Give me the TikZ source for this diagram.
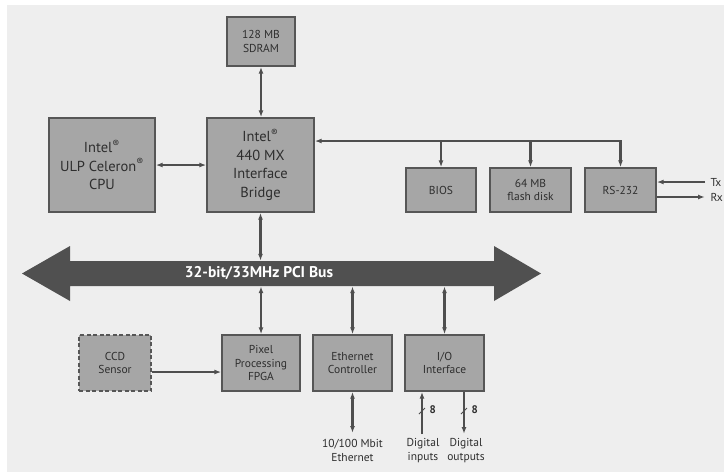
\documentclass[tikz,border=0pt]{standalone}
\usepackage{fontspec}
\setmainfont{PT Sans}
\usetikzlibrary{arrows.meta}
\definecolor{cBack}{HTML}{EEEEEE}
\definecolor{cBox}{HTML}{A6A6A6}
\definecolor{cEdge}{HTML}{565656}
\definecolor{cLine}{HTML}{4E4E4E}
\definecolor{cBus}{HTML}{505050}
\definecolor{cText}{HTML}{2E2E2E}

\begin{document}
\begin{tikzpicture}[x=1pt, y=-1pt,
    blk/.style={draw=cEdge, fill=cBox, line width=1.4pt, text=cText,
      align=center, inner sep=0pt, font=\fontsize{11.5}{13.5}\selectfont},
    bigblk/.style={blk, font=\fontsize{14.5}{18.5}\selectfont},
    ln/.style={draw=cLine, line width=2.3pt, arrows={-Latex[length=7pt,width=5pt]}},
    dbl/.style={ln, arrows={Latex[length=7pt,width=5pt]-Latex[length=7pt,width=5pt]}},
    lbl/.style={text=cText, align=center, font=\fontsize{11.5}{14}\selectfont}]
  \useasboundingbox (0,0) rectangle (724,472);
  \fill[white] (0,0) rectangle (724,472);
  \fill[cBack] (7,5) rectangle (724,472);

  \node[blk, minimum width=68, minimum height=49] (sdram) at (261,41.5) {128 MB\\SDRAM};
  \node[bigblk, minimum width=106, minimum height=94] (cpu) at (102,165)
    {Intel\textsuperscript{®}\\ULP Celeron\textsuperscript{®}\\CPU};
  \node[bigblk, minimum width=107, minimum height=94] (bridge) at (260.5,165)
    {Intel\textsuperscript{®}\\440 MX\\Interface\\Bridge};
  \node[blk, minimum width=70, minimum height=44] (bios) at (441,190) {BIOS};
  \node[blk, minimum width=81, minimum height=44] (flash) at (530.5,190) {64 MB\\flash disk};
  \node[blk, minimum width=71, minimum height=44] (rs) at (620.5,190) {RS-232};

  \fill[cBus] (22,273.5) -- (70,246) -- (70,261) -- (494,261) -- (494,246) -- (541,273.5)
    -- (494,301) -- (494,286) -- (70,286) -- (70,301) -- cycle;
  \node[minimum width=424, minimum height=25, inner sep=0pt] (bus) at (282,273.5) {};
  \node[text=white, font=\fontsize{15.5}{18}\bfseries] (buslbl) at (259,273.5) {32-bit/33MHz PCI Bus};

  \node[blk, dash pattern=on 4pt off 2.5pt, minimum width=72, minimum height=56] (ccd) at (115,363) {CCD\\Sensor};
  \node[blk, minimum width=78, minimum height=56] (fpga) at (261,363) {Pixel\\Processing\\FPGA};
  \node[blk, minimum width=79, minimum height=56] (eth) at (352.5,363) {Ethernet\\Controller};
  \node[blk, minimum width=79, minimum height=56] (io) at (444.5,363) {I/O\\Interface};

  \draw[dbl] (sdram.south) -- (bridge.north -| sdram.south);
  \draw[dbl] (cpu.east) -- (bridge.west);
  \coordinate (memtap) at (620.5,141);
  \draw[dbl] (bridge.east |- memtap) -- (memtap) -- (rs.north);
  \draw[ln] (bios.north |- memtap) -- (bios.north);
  \draw[ln] (flash.north |- memtap) -- (flash.north);

  \coordinate (txend) at (705,182);
  \coordinate (rxend) at (705,197);
  \draw[ln] (txend) -- (rs.east |- txend);
  \draw[ln] (rs.east |- rxend) -- (rxend);
  \node[lbl, anchor=west] (txlbl) at (707,182) {Tx};
  \node[lbl, anchor=west] (rxlbl) at (707,197) {Rx};

  \draw[dbl] (bridge.south) -- (bridge.south |- bus.north);
  \draw[dbl] (fpga.north |- bus.south) -- (fpga.north);
  \draw[dbl] (eth.north |- bus.south) -- (eth.north);
  \draw[dbl] (io.north |- bus.south) -- (io.north);
  \draw[ln] ([yshift=-9pt]ccd.east) -- ([yshift=-9pt]fpga.west);

  \coordinate (ethout) at (352.5,433);
  \draw[dbl] (eth.south) -- (ethout);
  \node[lbl] (ethlbl) at (352.5,450) {10/100 Mbit\\Ethernet};

  \coordinate (din) at (422,434);
  \coordinate (dout) at (464,434);
  \draw[ln] (din) -- (din |- io.south);
  \draw[ln] (dout |- io.south) -- (dout);
  \draw[cLine, line width=0.9pt] (419,414) -- (425,408);
  \draw[cLine, line width=0.9pt] (461,414) -- (467,408);
  \node[lbl, anchor=west, font=\fontsize{11}{14}\bfseries] (nin) at (426,410) {8};
  \node[lbl, anchor=west, font=\fontsize{11}{14}\bfseries] (nout) at (468,410) {8};
  \node[lbl] (dinlbl) at (423,451) {Digital\\inputs};
  \node[lbl] (doutlbl) at (466,451) {Digital\\outputs};
\end{tikzpicture}
\end{document}
